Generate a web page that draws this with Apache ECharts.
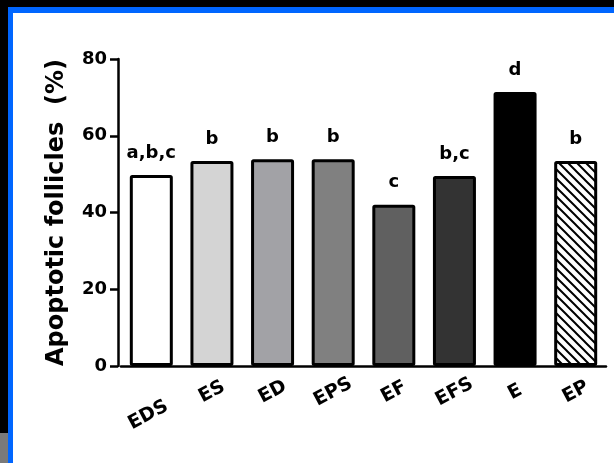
<!DOCTYPE html>
<html>
<head>
<meta charset="utf-8">
<script src="https://cdn.jsdelivr.net/npm/echarts@6/dist/echarts.min.js"></script>
<style>
  html, body { margin: 0; padding: 0; background: #fff; }
  .blk { position: absolute; }
  #main { position: absolute; left: 0; top: 0; width: 614px; height: 463px; }
</style>
</head>
<body>
<!-- frame round the screenshot -->
<div class="blk" style="left:0;top:0;width:614px;height:7px;background:#000"></div>
<div class="blk" style="left:0;top:0;width:8px;height:463px;background:#000"></div>
<div class="blk" style="left:0;top:433px;width:8px;height:30px;background:#7a7a7a"></div>
<div class="blk" style="left:8px;top:7px;width:606px;height:6px;background:#0066ff"></div>
<div class="blk" style="left:8px;top:7px;width:5px;height:456px;background:#0066ff"></div>
<div id="main"></div>
<script>
// data
var groups = ['EDS', 'ES', 'ED', 'EPS', 'EF', 'EFS', 'E', 'EP'];
var apoptotic = [49.8, 53.4, 53.9, 53.9, 42.0, 49.5, 71.4, 53.4];
var letters = ['a,b,c', 'b', 'b', 'b', 'c', 'b,c', 'd', 'b'];
var yTicks = [0, 20, 40, 60, 80];

// fills, last one is hatched
var fills = ['#ffffff', '#d4d4d4', '#a2a2a6', '#808080', '#606060', '#333333', '#000000', 'hatch'];

function hatchPattern() {
  var s = 9;
  var c = document.createElement('canvas');
  c.width = s;
  c.height = s;
  var ctx = c.getContext('2d');
  ctx.fillStyle = '#fff';
  ctx.fillRect(0, 0, s, s);
  ctx.strokeStyle = '#000';
  ctx.lineWidth = 2;
  ctx.beginPath();
  ctx.moveTo(-1, -1); ctx.lineTo(s + 1, s + 1);
  ctx.moveTo(-2, s - 2); ctx.lineTo(2, s + 2);
  ctx.moveTo(s - 2, -2); ctx.lineTo(s + 2, 2);
  ctx.stroke();
  return { image: c, repeat: 'repeat' };
}

var font = 'DejaVu Sans';

var catData = groups.map(function (g, i) {
  if (i === 0) {
    // EDS label sits lower and a bit left of the others
    return { value: g, textStyle: { align: 'center', verticalAlign: 'middle', padding: [0, 27, 0, 0] } };
  }
  return g;
});

var barData = apoptotic.map(function (v, i) {
  return {
    value: v,
    itemStyle: { color: fills[i] === 'hatch' ? hatchPattern() : fills[i] }
  };
});

var chart = echarts.init(document.getElementById('main'));
chart.setOption({
  animation: false,
  grid: { left: 121, right: 8, top: 59, bottom: 97 },
  xAxis: {
    type: 'category',
    data: catData,
    axisLine: { lineStyle: { color: '#000', width: 2.5 } },
    axisTick: { show: false },
    axisLabel: {
      interval: 0,
      rotate: 28,
      align: 'center',
      verticalAlign: 'middle',
      margin: 26,
      lineHeight: 19,
      color: '#000',
      fontFamily: font,
      fontWeight: 'bold',
      fontSize: 19,
      formatter: function (v) { return v === 'EDS' ? '\n\n' + v : v; }
    }
  },
  yAxis: {
    type: 'value',
    min: yTicks[0],
    max: yTicks[yTicks.length - 1],
    interval: 20,
    offset: 3,
    name: 'Apoptotic follicles  (%)',
    nameLocation: 'middle',
    nameGap: 49,
    nameRotate: 90,
    nameTextStyle: { color: '#000', fontFamily: font, fontWeight: 'bold', fontSize: 24 },
    axisLine: { show: true, lineStyle: { color: '#000', width: 2.5 } },
    axisTick: { show: true, length: 8, lineStyle: { color: '#000', width: 2.5 } },
    axisLabel: { color: '#000', fontFamily: font, fontWeight: 'bold', fontSize: 18, margin: 11 },
    splitLine: { show: false }
  },
  series: [{
    type: 'bar',
    data: barData,
    barWidth: 43,
    itemStyle: { borderColor: '#000', borderWidth: 3, borderJoin: 'round', borderRadius: 1 },
    label: {
      show: true,
      position: 'top',
      distance: 13,
      color: '#000',
      fontFamily: font,
      fontWeight: 'bold',
      fontSize: 18,
      formatter: function (p) { return letters[p.dataIndex]; }
    }
  }]
});
</script>
</body>
</html>
